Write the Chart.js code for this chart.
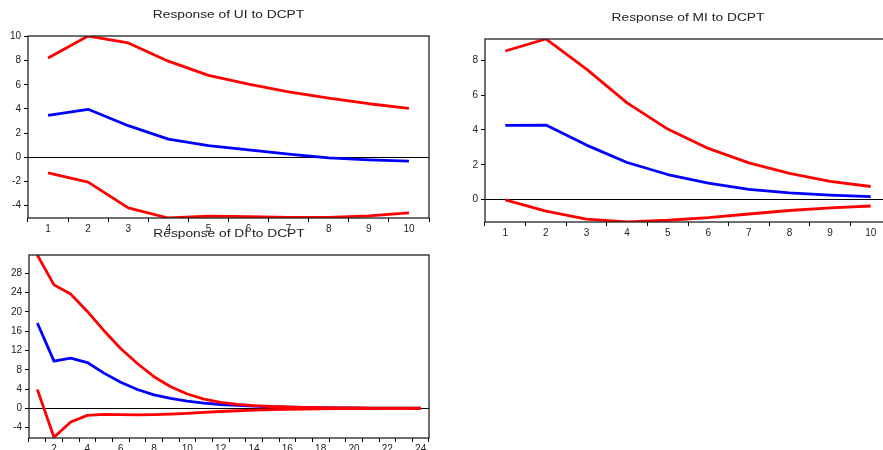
<!DOCTYPE html>
<html>
<head>
<meta charset="utf-8">
<script src="https://cdn.jsdelivr.net/npm/chart.js@4"></script>
<style>
html, body { margin:0; padding:0; background:#fff; overflow:hidden; width:883px; height:450px; }
canvas { position:absolute; }
</style>
</head>
<body>
<canvas id="c1" width="440" height="240" style="left:0px;top:0px"></canvas>
<canvas id="c2" width="450" height="245" style="left:450px;top:0px"></canvas>
<canvas id="c3" width="440" height="230" style="left:0px;top:225px"></canvas>
<script>
// ---- data ----
const periods10 = ['1','2','3','4','5','6','7','8','9','10'];
const periods24 = ['1','2','3','4','5','6','7','8','9','10','11','12','13','14','15','16','17','18','19','20','21','22','23','24'];

const uiUpper = [8.23, 10.05, 9.47, 7.96, 6.78, 6.06, 5.42, 4.90, 4.43, 4.05];
const uiResp  = [3.47, 3.97, 2.61, 1.49, 0.96, 0.60, 0.25, -0.06, -0.22, -0.33];
const uiLower = [-1.30, -2.07, -4.21, -5.05, -4.90, -4.93, -5.00, -5.00, -4.88, -4.63];
const uiTicks = [-4, -2, 0, 2, 4, 6, 8, 10];

const miUpper = [8.54, 9.23, 7.50, 5.56, 4.05, 2.94, 2.11, 1.50, 1.05, 0.75];
const miResp  = [4.26, 4.28, 3.13, 2.13, 1.44, 0.94, 0.59, 0.38, 0.25, 0.17];
const miLower = [-0.02, -0.66, -1.13, -1.28, -1.19, -1.04, -0.83, -0.63, -0.48, -0.37];
const miTicks = [0, 2, 4, 6, 8];

const diUpper = [31.8, 25.6, 23.7, 20.1, 16.1, 12.4, 9.3, 6.56, 4.49, 2.97, 1.93, 1.24, 0.83, 0.55, 0.38, 0.28, 0.20, 0.15, 0.11, 0.08, 0.06, 0.04, 0.03, 0.02];
const diResp  = [17.7, 9.8, 10.4, 9.5, 7.3, 5.4, 3.9, 2.8, 2.05, 1.5, 1.1, 0.8, 0.6, 0.45, 0.33, 0.25, 0.18, 0.13, 0.10, 0.07, 0.05, 0.04, 0.03, 0.02];
const diLower = [3.9, -6.0, -2.83, -1.45, -1.24, -1.30, -1.35, -1.30, -1.20, -1.04, -0.85, -0.65, -0.50, -0.38, -0.28, -0.20, -0.14, -0.10, -0.07, -0.05, -0.03, -0.02, -0.02, -0.01];
const diTicks = [-4, 0, 4, 8, 12, 16, 20, 24, 28];

// ---- helpers ----
const FONT = 'Liberation Sans, Arial, sans-serif';

const panelPlugin = {
  id: 'panelDecor',
  afterDatasetsDraw(chart) {
    const a = chart.chartArea, ctx = chart.ctx;
    ctx.save();
    ctx.strokeStyle = '#222';
    ctx.lineWidth = 1.3;
    ctx.strokeRect(a.left, a.top, a.right - a.left, a.bottom - a.top);
    ctx.restore();
  },
  afterDraw(chart, args, opts) {
    const a = chart.chartArea, ctx = chart.ctx;
    ctx.save();
    ctx.font = '11px ' + FONT;
    ctx.fillStyle = '#222';
    ctx.textAlign = 'center';
    ctx.textBaseline = 'middle';
    ctx.translate((a.left + a.right) / 2, a.top - 21);
    ctx.scale(1.25, 1);
    ctx.fillText(opts.text, 0, 0);
    ctx.restore();
  }
};

function makeChart(id, cfg) {
  const tickFont = { family: FONT, size: 10 };
  return new Chart(document.getElementById(id), {
    type: 'line',
    data: {
      labels: cfg.labels,
      datasets: [
        { data: cfg.upper, borderColor: '#ff0000', borderWidth: 2.8 },
        { data: cfg.lower, borderColor: '#ff0000', borderWidth: 2.8 },
        { data: cfg.resp,  borderColor: '#0000ff', borderWidth: 2.8 }
      ]
    },
    options: {
      responsive: false,
      animation: false,
      events: [],
      elements: { point: { radius: 0 }, line: { tension: 0, borderCapStyle: 'butt', borderJoinStyle: 'round' } },
      layout: { padding: cfg.padding },
      plugins: {
        legend: { display: false },
        tooltip: { enabled: false },
        title: { display: false },
        panelDecor: { text: cfg.title }
      },
      scales: {
        x: {
          type: 'category',
          offset: true,
          afterFit(s) { s.height = cfg.xHeight; },
          grid: { offset: true, drawOnChartArea: false, drawTicks: true, tickLength: 4, tickColor: '#000', lineWidth: 1 },
          border: { display: false },
          ticks: {
            autoSkip: false, maxRotation: 0, minRotation: 0, padding: 1,
            color: '#222', font: tickFont,
            callback(v, i) { return (cfg.labelEvery === 2 && i % 2 === 0) ? '' : cfg.labels[i]; }
          }
        },
        y: {
          type: 'linear',
          min: cfg.range[0], max: cfg.range[1],
          afterFit(s) { s.width = cfg.yWidth; },
          afterBuildTicks(s) { s.ticks = cfg.ticks.map(v => ({ value: v })); },
          grid: {
            drawOnChartArea: true, drawTicks: true, tickLength: 4, tickColor: '#000', lineWidth: 1,
            color: (c) => (c.tick && c.tick.value === 0) ? '#000' : 'rgba(0,0,0,0)'
          },
          border: { display: false },
          ticks: { padding: 3, color: '#222', font: tickFont }
        }
      }
    },
    plugins: [panelPlugin]
  });
}

makeChart('c1', {
  title: 'Response of UI to DCPT', labels: periods10,
  upper: uiUpper, resp: uiResp, lower: uiLower, ticks: uiTicks,
  range: [-5.05, 10.05], padding: { top: 36, right: 11, left: 0, bottom: 0 },
  yWidth: 28, xHeight: 22, labelEvery: 1
});
makeChart('c2', {
  title: 'Response of MI to DCPT', labels: periods10,
  upper: miUpper, resp: miResp, lower: miLower, ticks: miTicks,
  range: [-1.29, 9.23], padding: { top: 39, right: 9, left: 0, bottom: 0 },
  yWidth: 35, xHeight: 23, labelEvery: 1
});
makeChart('c3', {
  title: 'Response of DI to DCPT', labels: periods24,
  upper: diUpper, resp: diResp, lower: diLower, ticks: diTicks,
  range: [-6.15, 31.8], padding: { top: 30, right: 11, left: 0, bottom: 0 },
  yWidth: 29, xHeight: 17, labelEvery: 2
});
</script>
</body>
</html>
